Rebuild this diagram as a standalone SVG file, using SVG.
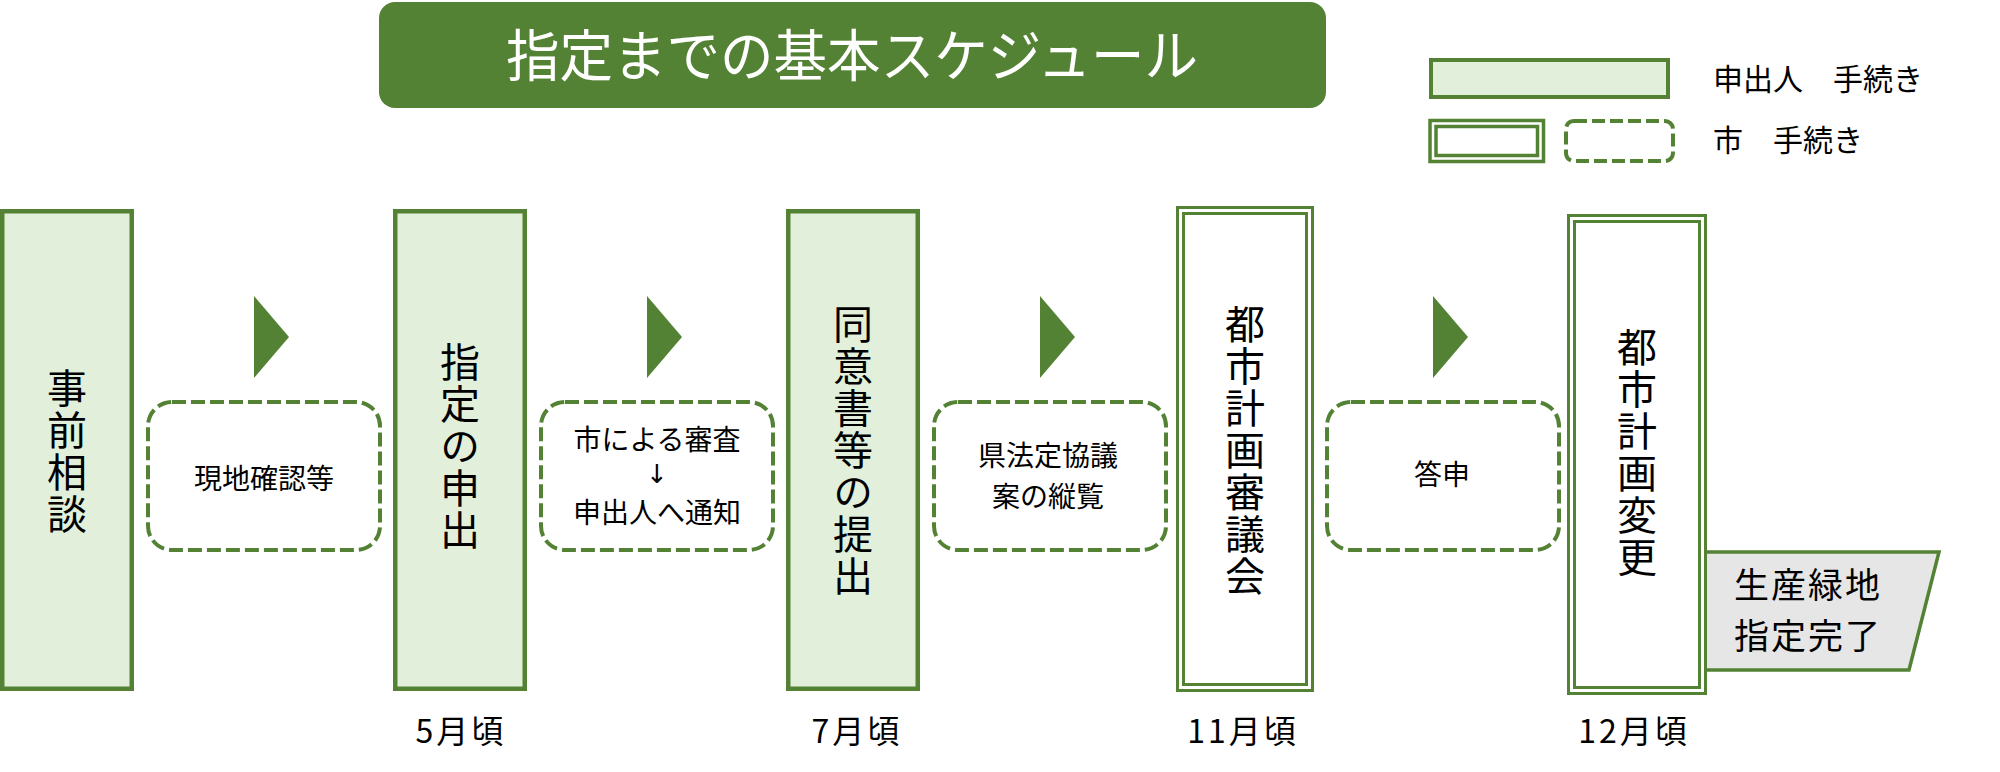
<svg xmlns="http://www.w3.org/2000/svg" width="2000" height="772" viewBox="0 0 2000 772">
<style>
text{font-family:"Noto Sans CJK JP","Noto Sans",sans-serif;fill:#000}
.app{fill:#E2EFDA;stroke:#548235;stroke-width:4.5}
.city{fill:#fff;stroke:#548235;stroke-width:3}
.dash{fill:#fff;stroke:#548235;stroke-width:4;stroke-dasharray:14 5}
.arrow{fill:#548235}
.v{font-size:40px;text-anchor:middle;writing-mode:vertical-rl;letter-spacing:2px}
.s{font-size:28px;text-anchor:middle}
.m{font-size:32px;text-anchor:middle;letter-spacing:3px}
.lg{font-size:30px}
</style>
<rect width="2000" height="772" fill="#fff"/>
<g id="title">
<rect x="379" y="2" width="947" height="106" rx="16" fill="#548235"/>
<text x="852" y="76" font-size="56" text-anchor="middle" textLength="692" lengthAdjust="spacingAndGlyphs" style="fill:#fff">指定までの基本スケジュール</text>
</g>
<g id="legend">
<rect x="1431" y="60" width="237" height="37" class="app" style="stroke-width:4"/>
<text x="1713" y="90" class="lg">申出人　手続き</text>
<rect x="1430" y="120.5" width="113.5" height="41" class="city" style="stroke-width:3.5"/>
<rect x="1436" y="126.5" width="101.5" height="29" class="city" style="stroke-width:3.5"/>
<rect x="1566" y="121" width="107" height="40" rx="8" class="dash" style="stroke-dasharray:13 5"/>
<text x="1713" y="151" class="lg">市　手続き</text>
</g>
<g id="connectors">
<polygon class="arrow" points="254,296 289,337 254,378"/>
<polygon class="arrow" points="647,296 682,337 647,378"/>
<polygon class="arrow" points="1040,296 1075,337 1040,378"/>
<polygon class="arrow" points="1433,296 1468,337 1433,378"/>
</g>
<g id="n1">
<rect x="2.25" y="211.25" width="129.5" height="477.5" class="app"/>
<text x="67" y="452" class="v">事前相談</text>
</g>
<g id="n2">
<rect x="395.25" y="211.25" width="129.5" height="477.5" class="app"/>
<text x="460" y="447" class="v">指定の申出</text>
</g>
<g id="n3">
<rect x="788.25" y="211.25" width="129.5" height="477.5" class="app"/>
<text x="853" y="451" class="v">同意書等の提出</text>
</g>
<g id="n4">
<rect x="1177.5" y="207.5" width="135" height="483" class="city"/>
<rect x="1183.5" y="213.5" width="123" height="471" class="city"/>
<text x="1245" y="451" class="v">都市計画審議会</text>
</g>
<g id="n5">
<rect x="1568.5" y="215.5" width="137" height="478" class="city"/>
<rect x="1574.5" y="221.5" width="125" height="466" class="city"/>
<text x="1637" y="453" class="v">都市計画変更</text>
</g>
<g id="d1">
<rect x="148" y="402" width="232" height="148" rx="24" class="dash"/>
<text x="264" y="489" class="s">現地確認等</text>
</g>
<g id="d2">
<rect x="541" y="402" width="232" height="148" rx="24" class="dash"/>
<text x="657" y="450" class="s">市による審査</text>
<text x="657" y="483" font-size="26" text-anchor="middle" style="font-family:'DejaVu Sans',sans-serif">↓</text>
<text x="657" y="523" class="s">申出人へ通知</text>
</g>
<g id="d3">
<rect x="934" y="402" width="232" height="148" rx="24" class="dash"/>
<text x="1048" y="466" class="s">県法定協議</text>
<text x="1048" y="507" class="s">案の縦覧</text>
</g>
<g id="d4">
<rect x="1327" y="402" width="232" height="148" rx="24" class="dash"/>
<text x="1442" y="485" class="s">答申</text>
</g>
<g id="done">
<polygon points="1707,552 1939,552 1909,670 1707,670" fill="#E7E6E6"/>
<polyline points="1704,552 1939,552 1909,670 1704,670" fill="none" stroke="#548235" stroke-width="3.5"/>
<text x="1734" y="598" font-size="35" textLength="146" lengthAdjust="spacing">生産緑地</text>
<text x="1734" y="649" font-size="35" textLength="146" lengthAdjust="spacing">指定完了</text>
</g>
<g id="months">
<text x="461" y="743" class="m">5月頃</text>
<text x="857" y="743" class="m">7月頃</text>
<text x="1243" y="743" class="m">11月頃</text>
<text x="1634" y="743" class="m">12月頃</text>
</g>
</svg>
